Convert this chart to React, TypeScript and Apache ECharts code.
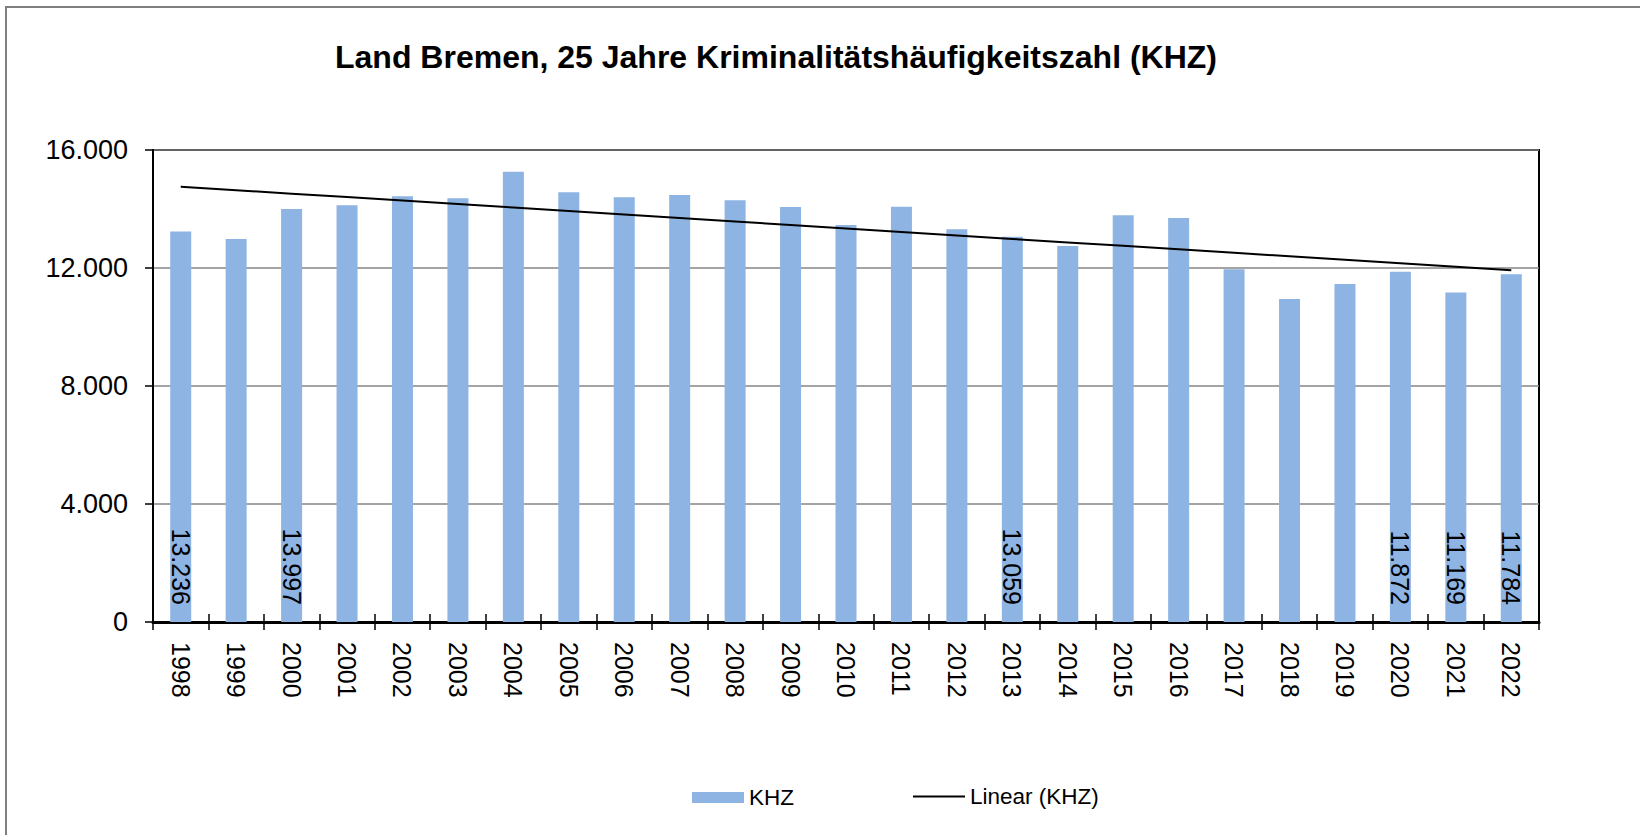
import React, { useEffect, useRef } from "react";
import * as echarts from "echarts";

const TITLE = "Land Bremen, 25 Jahre Kriminalitätshäufigkeitszahl (KHZ)";
const years = [
  "1998", "1999", "2000", "2001", "2002", "2003", "2004", "2005", "2006",
  "2007", "2008", "2009", "2010", "2011", "2012", "2013", "2014", "2015",
  "2016", "2017", "2018", "2019", "2020", "2021", "2022",
];
const khz = [
  13236, 12983, 13997, 14125, 14430, 14362, 15265, 14565, 14396,
  14475, 14294, 14068, 13458, 14079, 13311, 13059, 12746, 13786,
  13695, 11955, 10949, 11458, 11872, 11169, 11784,
];
const labeledYears = ["1998", "2000", "2013", "2020", "2021", "2022"];
const yTicks = { min: 0, max: 16000, interval: 4000 };

const FONT = "'Liberation Sans', Arial, sans-serif";
const BAR_COLOR = "#8EB4E3";

const fmt = (v: number) =>
  String(Math.round(v)).replace(/\B(?=(\d{3})+(?!\d))/g, ".");

// Linear trendline (least squares) of the KHZ series, as in the spreadsheet
function linearTrend(vals: number[]) {
  const n = vals.length;
  const mx = (n - 1) / 2;
  const my = vals.reduce((a, b) => a + b, 0) / n;
  let sxy = 0;
  let sxx = 0;
  vals.forEach((v, i) => {
    sxy += (i - mx) * (v - my);
    sxx += (i - mx) * (i - mx);
  });
  const slope = sxy / sxx;
  return vals.map((_, i) => my + slope * (i - mx));
}

export default function App() {
  const ref = useRef<HTMLDivElement>(null);

  useEffect(() => {
    if (!ref.current) return;
    const chart = echarts.init(ref.current, undefined, { renderer: "svg" });
    const trend = linearTrend(khz);

    chart.setOption({
      animation: false,
      backgroundColor: "#ffffff",
      textStyle: { fontFamily: FONT },
      title: {
        text: TITLE,
        left: 335,
        top: 41,
        padding: 0,
        textStyle: {
          fontFamily: FONT,
          fontSize: 32,
          fontWeight: "bold",
          color: "#000",
        },
      },
      graphic: [
        {
          type: "rect",
          z: -10,
          silent: true,
          shape: { x: 6, y: 7, width: 1700, height: 900 },
          style: { fill: "none", stroke: "#7f7f7f", lineWidth: 2 },
        },
      ],
      legend: [
        {
          left: 692,
          top: 786,
          padding: 0,
          itemWidth: 52,
          itemHeight: 11,
          data: [{ name: "KHZ", icon: "rect" }],
          textStyle: { fontFamily: FONT, fontSize: 22.5, color: "#000" },
        },
        {
          left: 913,
          top: 785,
          padding: 0,
          itemWidth: 52,
          itemHeight: 2,
          data: [{ name: "Linear (KHZ)", icon: "path://M0,0H52V2H0Z" }],
          textStyle: { fontFamily: FONT, fontSize: 22.5, color: "#000" },
        },
      ],
      grid: {
        left: 153,
        top: 150,
        right: 101,
        bottom: 213,
        show: true,
        borderColor: "#000",
        borderWidth: 2,
        backgroundColor: "transparent",
      },
      xAxis: [
        {
          type: "category",
          data: years,
          axisLine: { lineStyle: { color: "#000", width: 3 } },
          axisTick: {
            show: true,
            interval: 0,
            length: 8,
            lineStyle: { color: "#000", width: 1.5 },
          },
          axisLabel: {
            interval: 0,
            rotate: -90,
            margin: 20,
            fontSize: 25,
            color: "#000",
            fontFamily: FONT,
          },
          splitLine: { show: false },
        },
        {
          type: "category",
          data: years,
          position: "bottom",
          axisLine: { show: false },
          axisTick: {
            show: true,
            inside: true,
            interval: 0,
            length: 8,
            lineStyle: { color: "#000", width: 1.5 },
          },
          axisLabel: { show: false },
          splitLine: { show: false },
        },
      ],
      yAxis: {
        type: "value",
        min: yTicks.min,
        max: yTicks.max,
        interval: yTicks.interval,
        axisLine: { show: true, lineStyle: { color: "#000", width: 2 } },
        axisTick: { show: true, length: 8, lineStyle: { color: "#000", width: 1.5 } },
        axisLabel: {
          margin: 25,
          fontSize: 27,
          color: "#000",
          fontFamily: FONT,
          formatter: (v: number) => fmt(v),
        },
        splitLine: { show: true, lineStyle: { color: "#868686", width: 1.5 } },
      },
      series: [
        {
          name: "KHZ",
          type: "bar",
          barWidth: 21,
          itemStyle: { color: BAR_COLOR },
          data: khz.map((v, i) => ({
            value: v,
            label: { show: labeledYears.includes(years[i]) },
          })),
          label: {
            position: "insideBottom",
            distance: 17,
            rotate: -90,
            align: "right",
            verticalAlign: "middle",
            fontSize: 25,
            color: "#000",
            fontFamily: FONT,
            formatter: (p: any) => fmt(p.value),
          },
        },
        {
          name: "Linear (KHZ)",
          type: "line",
          data: trend,
          symbol: "none",
          showSymbol: false,
          z: 5,
          itemStyle: { color: "#000" },
          lineStyle: { color: "#000", width: 2 },
        },
      ],
    });

    return () => chart.dispose();
  }, []);

  return (
    <div
      ref={ref}
      style={{ position: "absolute", left: 0, top: 0, width: 1640, height: 835 }}
    />
  );
}
